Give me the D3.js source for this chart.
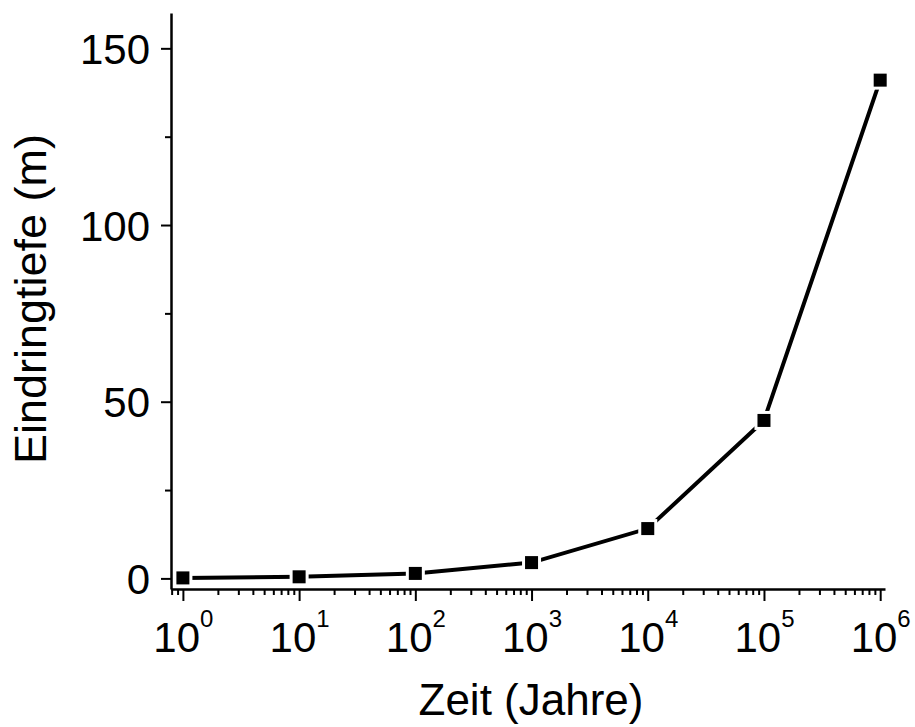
<!DOCTYPE html>
<html>
<head>
<meta charset="utf-8">
<script src="https://cdn.jsdelivr.net/npm/d3@7"></script>
<style>
  body { margin: 0; background: #fff; }
  text { font-family: "Liberation Sans", Arial, sans-serif; fill: #000; }
</style>
</head>
<body>
<div id="chart"></div>
<script>
// DATA
const years = [1, 10, 100, 1000, 10000, 100000, 1000000];
const depth = [0.14, 0.45, 1.41, 4.47, 14.1, 44.7, 141];
const yTicks = [0, 50, 100, 150];
const yMinor = [25, 75, 125];
const xExponents = [0, 1, 2, 3, 4, 5, 6];

const width = 915;
const height = 727;

const svg = d3.select('#chart')
  .append('svg')
  .attr('width', width)
  .attr('height', height);

const xScale = d3.scaleLog()
  .domain([0.79, 1.1e6])
  .range([171, 885]);

const yScale = d3.scaleLinear()
  .domain([-3, 160])
  .range([589, 13]);

// minor ticks for the log axis: 0.8, 0.9 and 2..9 in every decade
const xMinor = [0.8, 0.9];
for (let k = 0; k < 6; k++) {
  for (let m = 2; m <= 9; m++) xMinor.push(m * Math.pow(10, k));
}

// X-AXIS
svg.append('g')
  .attr('class', 'axis x-minor')
  .attr('transform', 'translate(0,589)')
  .call(d3.axisBottom(xScale).tickValues(xMinor).tickSize(6).tickSizeOuter(0).tickFormat(''))
  .call(g => g.select('.domain').remove());

const xAxis = svg.append('g')
  .attr('class', 'axis x-axis')
  .attr('transform', 'translate(0,589)')
  .call(d3.axisBottom(xScale)
    .tickValues(xExponents.map(e => Math.pow(10, e)))
    .tickSize(12)
    .tickSizeOuter(0)
    .tickFormat(''));

xAxis.selectAll('.tick text').remove();
xAxis.selectAll('.tick').each(function(d) {
  const t = d3.select(this).append('text')
    .attr('y', 63)
    .attr('text-anchor', 'middle')
    .style('font-size', '42px');
  t.append('tspan').text('10');
  t.append('tspan')
    .attr('dy', -25)
    .style('font-size', '24px')
    .text(Math.round(Math.log10(d)));
});

// Y-AXIS
svg.append('g')
  .attr('class', 'axis y-minor')
  .attr('transform', 'translate(171,0)')
  .call(d3.axisLeft(yScale).tickValues(yMinor).tickSize(6).tickSizeOuter(0).tickFormat(''))
  .call(g => g.select('.domain').remove());

svg.append('g')
  .attr('class', 'axis y-axis')
  .attr('transform', 'translate(171,0)')
  .call(d3.axisLeft(yScale).tickValues(yTicks).tickSize(10).tickSizeOuter(0).tickPadding(11))
  .call(g => g.selectAll('text').style('font-size', '42px').attr('dy', '0.36em'));

svg.selectAll('.axis path.domain').attr('stroke', '#000').attr('stroke-width', 2.5);
svg.selectAll('.axis line').attr('stroke', '#000').attr('stroke-width', 2);

// AXIS TITLES
svg.append('text')
  .attr('x', 531)
  .attr('y', 715)
  .attr('text-anchor', 'middle')
  .style('font-size', '44px')
  .text('Zeit (Jahre)');

svg.append('text')
  .attr('transform', 'translate(46,299) rotate(-90)')
  .attr('text-anchor', 'middle')
  .style('font-size', '45px')
  .text('Eindringtiefe (m)');

// ADD LINE
const points = years.map((y, i) => ({ year: y, depth: depth[i] }));

svg.append('path')
  .datum(points)
  .attr('fill', 'none')
  .attr('stroke', '#000')
  .attr('stroke-width', 4)
  .attr('d', d3.line()
    .x(d => xScale(d.year))
    .y(d => yScale(d.depth)));

// ADD MARKERS (white halo, then black square)
const markers = svg.append('g')
  .selectAll('g')
  .data(points)
  .enter()
  .append('g')
  .attr('transform', d => `translate(${xScale(d.year)},${yScale(d.depth)})`);

markers.append('rect')
  .attr('x', -9.5).attr('y', -9.5)
  .attr('width', 19).attr('height', 19)
  .attr('fill', '#fff');

markers.append('rect')
  .attr('x', -6.5).attr('y', -6.5)
  .attr('width', 13).attr('height', 13)
  .attr('fill', '#000');
</script>
</body>
</html>
